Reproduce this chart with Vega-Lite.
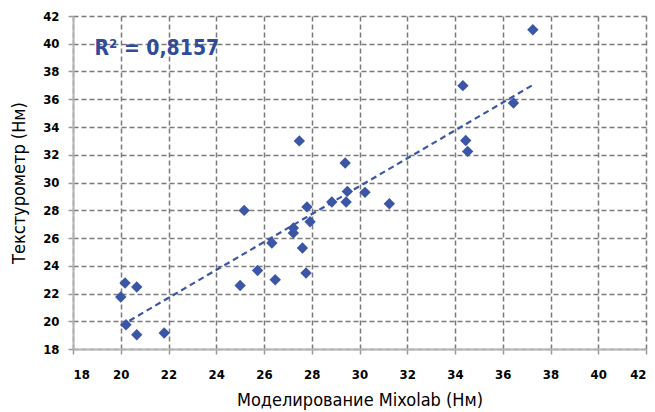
{
  "$schema": "https://vega.github.io/schema/vega-lite/v6.json",
  "autosize": {"type": "none"},
  "width": 573,
  "height": 333,
  "padding": {"left": 73, "top": 16, "right": 9, "bottom": 63},
  "background": "white",
  "config": {
    "view": {"stroke": null},
    "axis": {
      "grid": true,
      "gridColor": "#7a7a7a",
      "gridDash": [5, 3],
      "gridWidth": 1.5,
      "domainColor": "#b4b4b4",
      "domainWidth": 2,
      "tickColor": "#9a9a9a",
      "tickWidth": 1.5,
      "tickSize": 5,
      "labelFont": "Liberation Sans Narrow, DejaVu Sans Condensed, sans-serif",
      "labelFontWeight": "bold",
      "labelFontSize": 13,
      "labelColor": "#000000",
      "titleFont": "Liberation Sans Narrow, DejaVu Sans Condensed, sans-serif",
      "titleFontWeight": "normal",
      "titleFontSize": 18,
      "titleColor": "#000000"
    }
  },
  "data": {
    "values": [
      {"x": 20.0, "y": 21.75},
      {"x": 20.18, "y": 22.76},
      {"x": 20.67, "y": 22.47},
      {"x": 20.22, "y": 19.75},
      {"x": 20.67, "y": 19.03},
      {"x": 21.82, "y": 19.15},
      {"x": 25.0, "y": 22.58},
      {"x": 25.17, "y": 27.99},
      {"x": 25.73, "y": 23.66},
      {"x": 26.33, "y": 25.64},
      {"x": 26.47, "y": 22.99},
      {"x": 27.23, "y": 26.72},
      {"x": 27.23, "y": 26.36},
      {"x": 27.48, "y": 33.0},
      {"x": 27.61, "y": 25.28},
      {"x": 27.76, "y": 23.48},
      {"x": 27.8, "y": 28.24},
      {"x": 27.93, "y": 27.17},
      {"x": 28.84, "y": 28.6},
      {"x": 29.4, "y": 31.4},
      {"x": 29.44, "y": 28.6},
      {"x": 29.49, "y": 29.36},
      {"x": 30.23, "y": 29.29},
      {"x": 31.25, "y": 28.47},
      {"x": 34.33, "y": 36.98},
      {"x": 34.45, "y": 33.03},
      {"x": 34.53, "y": 32.24},
      {"x": 36.45, "y": 35.73},
      {"x": 37.26, "y": 41.01}
    ]
  },
  "encoding": {
    "x": {
      "field": "x",
      "type": "quantitative",
      "scale": {"domain": [18, 42], "nice": false, "zero": false},
      "axis": {"values": [18, 20, 22, 24, 26, 28, 30, 32, 34, 36, 38, 40, 42], "title": "Моделирование Mixolab (Нм)", "labelPadding": 14, "titlePadding": 10}
    },
    "y": {
      "field": "y",
      "type": "quantitative",
      "scale": {"domain": [18, 42], "nice": false, "zero": false},
      "axis": {"values": [18, 20, 22, 24, 26, 28, 30, 32, 34, 36, 38, 40, 42], "title": "Текстурометр (Нм)", "labelPadding": 9, "titlePadding": 14}
    }
  },
  "layer": [
    {
      "mark": {"type": "line", "color": "#3c56a6", "strokeDash": [6, 4], "strokeWidth": 2.2},
      "transform": [{"regression": "y", "on": "x"}]
    },
    {
      "mark": {"type": "point", "shape": "diamond", "filled": true, "size": 130, "color": "#3c56a6", "opacity": 1}
    },
    {
      "data": {"values": [{"x": 18.9, "y": 39.6, "label": "R² = 0,8157"}]},
      "mark": {"type": "text", "align": "left", "baseline": "middle", "font": "Liberation Sans Narrow, DejaVu Sans Condensed, sans-serif", "fontWeight": "bold", "fontSize": 21, "color": "#2f4b9a"},
      "encoding": {"text": {"field": "label"}}
    }
  ]
}
